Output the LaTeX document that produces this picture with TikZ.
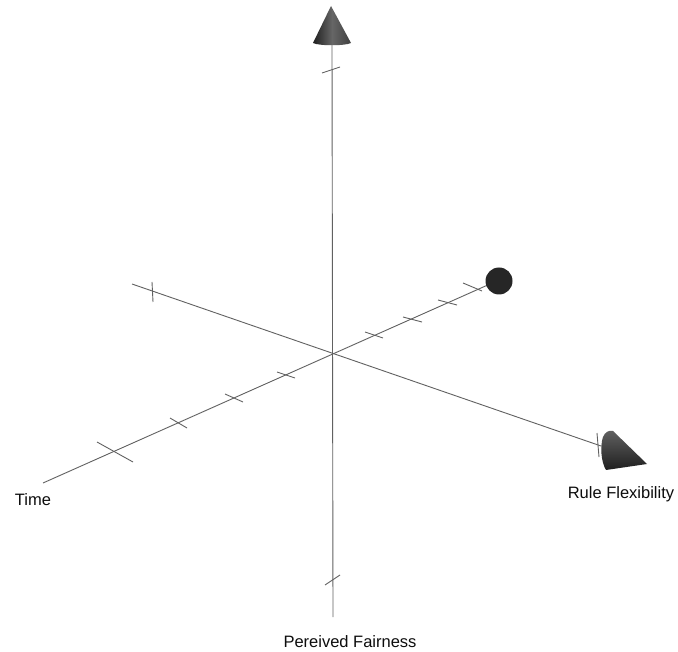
\documentclass[tikz,border=0pt]{standalone}
\usepackage{fontspec}
\setmainfont{Liberation Sans}
\usetikzlibrary{calc}
\begin{document}
\begin{tikzpicture}[x=1pt,y=-1pt,
  axis/.style={draw=black!62,line width=0.9pt},
  tickmark/.style={draw=black!62,line width=0.9pt},
  cone/.style={draw=none,left color=black!88,right color=black!75,middle color=black!60},
  rcone/.style={draw=none,top color=black!62,bottom color=black!88},
  lbl/.style={font=\fontsize{16.5}{20}\selectfont,text=black!95,inner sep=0pt}]
\useasboundingbox[fill=white] (0,0) rectangle (678,652);
% coordinates
\coordinate (O) at (332,354);
\coordinate (Vtop) at (332,43);
\coordinate (Vbot) at (333,617);
\coordinate (Tlo) at (43,483);
\coordinate (Thi) at (490,284);
\coordinate (Rlo) at (132,284);
\coordinate (Rhi) at (601,446);
% axes
\draw[axis] (Vtop) -- (Vbot);
\draw[axis] (Tlo) -- (Thi);
\draw[axis] (Rlo) -- (Rhi);
% ticks vertical axis
\draw[tickmark] (322,73) -- (340,67);
\draw[tickmark] (325,585) -- (340,575);
% ticks rule flexibility axis
\draw[tickmark] (152,282) -- (153,302);
\draw[tickmark] (597,433) -- (599,457);
% ticks time axis
\draw[tickmark] (97,442) -- (133,462);
\draw[tickmark] (170,418) -- (187,428);
\draw[tickmark] (225,394) -- (243,402);
\draw[tickmark] (277,372) -- (295,378);
\draw[tickmark] (365,332) -- (383,338);
\draw[tickmark] (403,317) -- (422,322);
\draw[tickmark] (438,300) -- (457,305);
\draw[tickmark] (463,283) -- (482,291);
% top cone
\path[cone] (313,43) -- (331,6) -- (351,43) .. controls (345,46) and (319,46) .. cycle;
% right cone
\path[rcone] (603,437) .. controls (605,432) and (609,430) .. (613,431) -- (647,464) -- (606,470) .. controls (601,462) and (600,446) .. cycle;
% blob at end of time axis
\node[draw=none,fill=black!85,circle,minimum size=27pt,inner sep=0pt] (blob) at (499,281) {};
% labels
\node[lbl] (time) at (33,500) {Time};
\node[lbl] (rule) at (621,494) {Rule Flexibility};
\node[lbl] (fair) at (350,642) {Pereived Fairness};
\end{tikzpicture}
\end{document}
